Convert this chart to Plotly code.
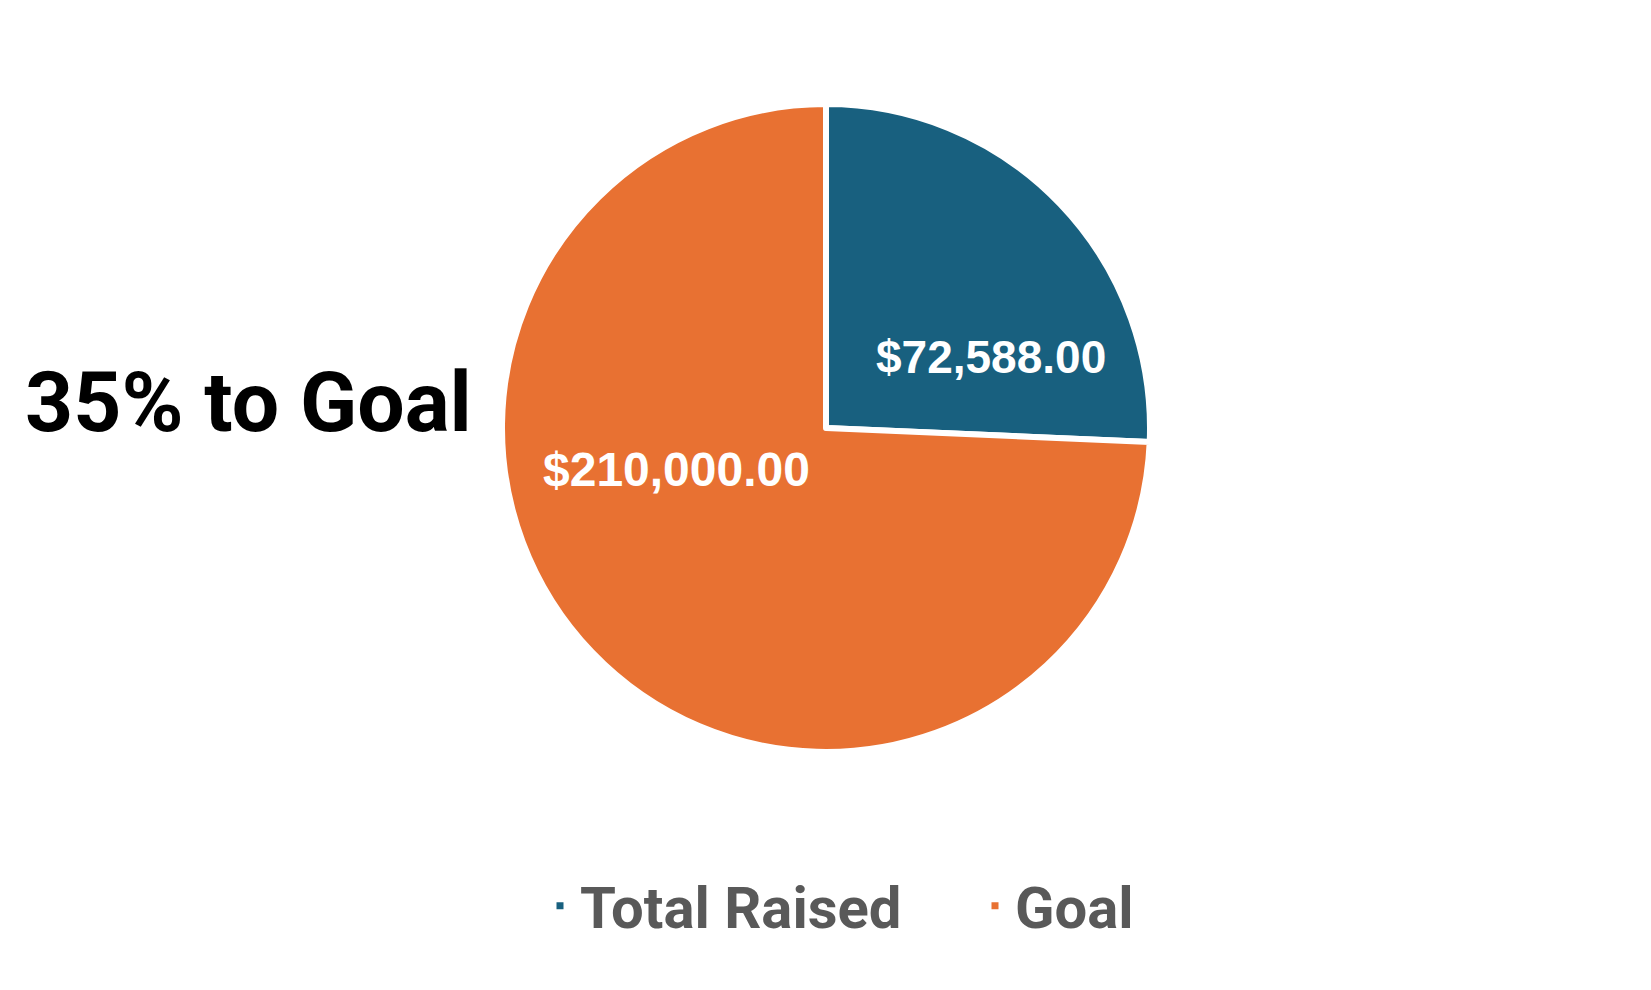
import plotly.graph_objects as go

categories = ["Total Raised", "Goal"]
values = [72588, 210000]
colors = ["#18607F", "#E87132"]

pct = round(values[0] / values[1] * 100)
title_text = f"{pct}% to Goal"
label_texts = [f"${v:,.2f}" for v in values]

W, H = 1651, 990
OFF = 8  # page body margin
cx, cy, r = 826 - OFF, 428 - OFF, 324

fig = go.Figure()
fig.add_trace(go.Pie(
    labels=categories,
    values=values,
    marker=dict(colors=colors, line=dict(color="white", width=6)),
    sort=False,
    direction="clockwise",
    rotation=0,
    textinfo="none",
    hoverinfo="label+value",
    domain=dict(x=[(cx - r) / W, (cx + r) / W], y=[1 - (cy + r) / H, 1 - (cy - r) / H]),
))

label_pos = [(991 - OFF, 357 - OFF), (676 - OFF, 469 - OFF)]
label_sizes = [46, 48]
for t, (px, py), s in zip(label_texts, label_pos, label_sizes):
    fig.add_annotation(
        text=f"<b>{t}</b>", x=px / W, y=1 - py / H, xref="paper", yref="paper",
        showarrow=False, xanchor="center", yanchor="middle",
        font=dict(family="Liberation Sans, Arial", size=s, color="white"),
    )

fig.add_annotation(
    text=f"<b>{title_text}</b>", x=15 / W, y=1 - 394 / H, xref="paper", yref="paper",
    showarrow=False, xanchor="left", yanchor="middle",
    font=dict(family="Roboto", size=84, color="black"),
)

fig.update_layout(
    width=W, height=H,
    margin=dict(l=0, r=0, t=0, b=0),
    paper_bgcolor="white", plot_bgcolor="white",
    showlegend=True,
    legend=dict(
        orientation="h", x=967 / W, xanchor="center", y=1 - 898 / H, yanchor="middle",
        font=dict(family="Roboto", size=58, color="#595959", weight="bold"),
        entrywidth=390, entrywidthmode="pixels",
    ),
)

fig.write_html("out.html")
